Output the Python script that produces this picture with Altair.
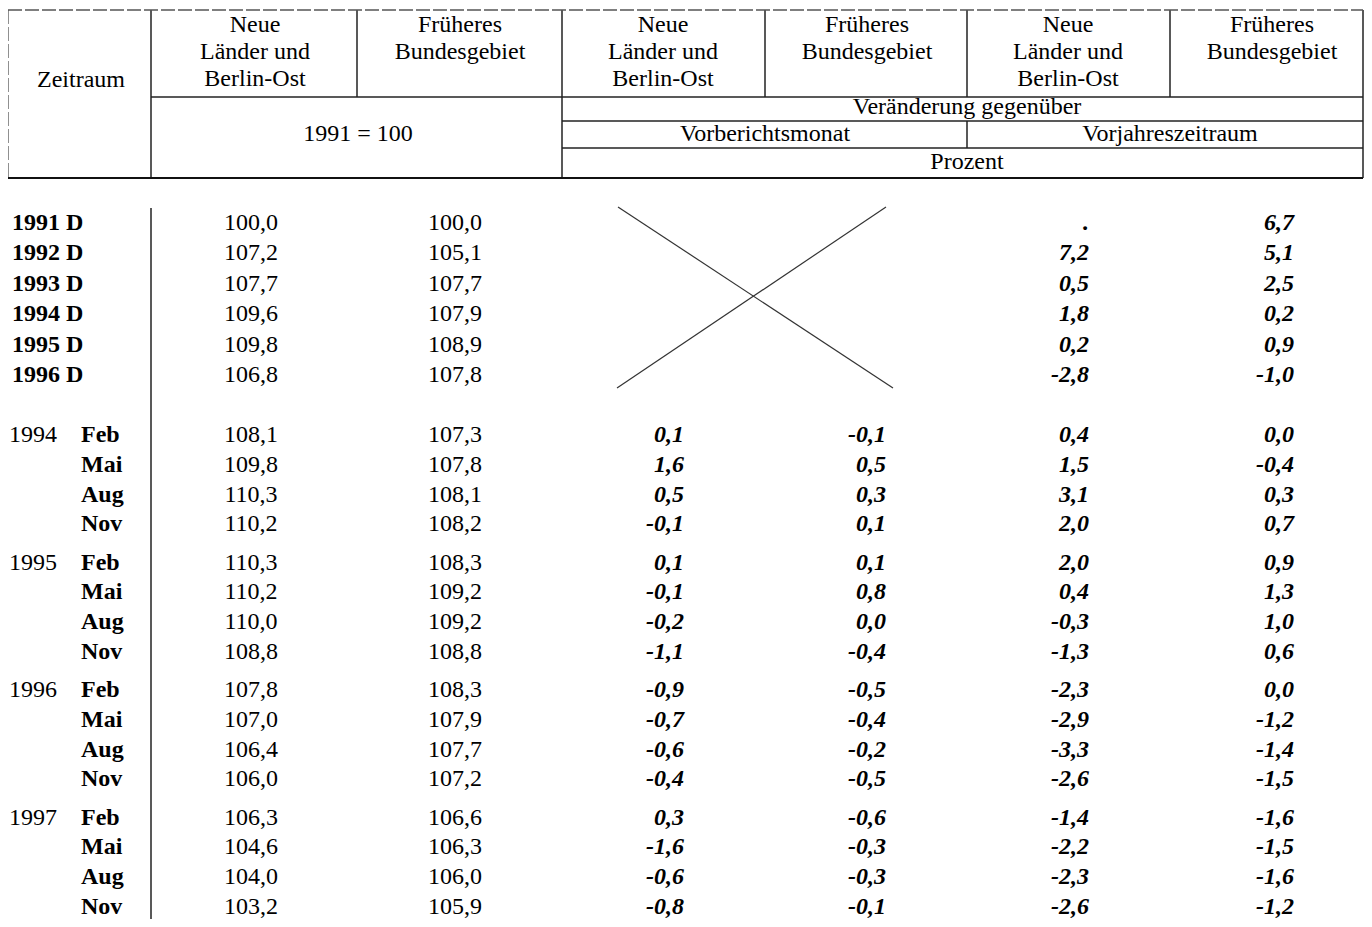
import altair as alt
import pandas as pd

# ---------------- data ----------------
annual_labels = ["1991 D", "1992 D", "1993 D", "1994 D", "1995 D", "1996 D"]
annual_neue = [100.0, 107.2, 107.7, 109.6, 109.8, 106.8]
annual_frueher = [100.0, 105.1, 107.7, 107.9, 108.9, 107.8]
annual_vj_neue = [None, 7.2, 0.5, 1.8, 0.2, -2.8]
annual_vj_frueher = [6.7, 5.1, 2.5, 0.2, 0.9, -1.0]

years = ["1994", "1995", "1996", "1997"]
months = ["Feb", "Mai", "Aug", "Nov"]
q_neue = [108.1, 109.8, 110.3, 110.2, 110.3, 110.2, 110.0, 108.8,
          107.8, 107.0, 106.4, 106.0, 106.3, 104.6, 104.0, 103.2]
q_frueher = [107.3, 107.8, 108.1, 108.2, 108.3, 109.2, 109.2, 108.8,
             108.3, 107.9, 107.7, 107.2, 106.6, 106.3, 106.0, 105.9]
q_vm_neue = [0.1, 1.6, 0.5, -0.1, 0.1, -0.1, -0.2, -1.1,
             -0.9, -0.7, -0.6, -0.4, 0.3, -1.6, -0.6, -0.8]
q_vm_frueher = [-0.1, 0.5, 0.3, 0.1, 0.1, 0.8, 0.0, -0.4,
                -0.5, -0.4, -0.2, -0.5, -0.6, -0.3, -0.3, -0.1]
q_vj_neue = [0.4, 1.5, 3.1, 2.0, 2.0, 0.4, -0.3, -1.3,
             -2.3, -2.9, -3.3, -2.6, -1.4, -2.2, -2.3, -2.6]
q_vj_frueher = [0.0, -0.4, 0.3, 0.7, 0.9, 1.3, 1.0, 0.6,
                0.0, -1.2, -1.4, -1.5, -1.6, -1.5, -1.6, -1.2]

col_neue = ["Neue", "Länder und", "Berlin-Ost"]
col_frueher = ["Früheres", "Bundesgebiet"]

# ---------------- layout (style) ----------------
FONT = "Liberation Serif"
FS = 24
W, H = 1356, 911
X0, X1, Y0, Y1 = 8, 1364, 8, 919
RIGHT = 1363

def fmt(v):
    if v is None:
        return "."
    return f"{v:.1f}".replace(".", ",")

def ann_y(i):
    return 223 + 30.4 * i

def q_y(g, q):
    return 435 + 127.5 * g + 29.8 * q

idx_cx = [251, 455]
chg_rx = [684, 886, 1089, 1294]

rows = []
for i, lab in enumerate(annual_labels):
    y = ann_y(i)
    rows.append(dict(x=12, y=y, t=lab, s="lab_bold"))
    rows.append(dict(x=idx_cx[0], y=y, t=fmt(annual_neue[i]), s="idx"))
    rows.append(dict(x=idx_cx[1], y=y, t=fmt(annual_frueher[i]), s="idx"))
    rows.append(dict(x=chg_rx[2], y=y, t=fmt(annual_vj_neue[i]), s="chg"))
    rows.append(dict(x=chg_rx[3], y=y, t=fmt(annual_vj_frueher[i]), s="chg"))

for g, yr in enumerate(years):
    rows.append(dict(x=9, y=q_y(g, 0), t=yr, s="lab_reg"))
    for q, m in enumerate(months):
        k = 4 * g + q
        y = q_y(g, q)
        rows.append(dict(x=81, y=y, t=m, s="lab_bold"))
        rows.append(dict(x=idx_cx[0], y=y, t=fmt(q_neue[k]), s="idx"))
        rows.append(dict(x=idx_cx[1], y=y, t=fmt(q_frueher[k]), s="idx"))
        for c, arr in enumerate([q_vm_neue, q_vm_frueher, q_vj_neue, q_vj_frueher]):
            rows.append(dict(x=chg_rx[c], y=y, t=fmt(arr[k]), s="chg"))

# header texts
head_cx_neue = [255, 663, 1068]
head_cx_fr = [460, 867, 1272]
for cx in head_cx_neue:
    for j, t in enumerate(col_neue):
        rows.append(dict(x=cx, y=25 + 27 * j, t=t, s="head"))
for cx in head_cx_fr:
    for j, t in enumerate(col_frueher):
        rows.append(dict(x=cx, y=25 + 27 * j, t=t, s="head"))
rows += [
    dict(x=81, y=80, t="Zeitraum", s="head"),
    dict(x=358, y=134, t="1991 = 100", s="head"),
    dict(x=967, y=107, t="Veränderung gegenüber", s="head"),
    dict(x=765, y=134, t="Vorberichtsmonat", s="head"),
    dict(x=1170, y=134, t="Vorjahreszeitraum", s="head"),
    dict(x=967, y=162, t="Prozent", s="head"),
]
cells = pd.DataFrame(rows)

segs = pd.DataFrame([
    # header grid
    dict(x=151, y=10, x2=151, y2=178, k="n"),
    dict(x=357, y=10, x2=357, y2=97, k="n"),
    dict(x=562, y=10, x2=562, y2=178, k="n"),
    dict(x=765, y=10, x2=765, y2=97, k="n"),
    dict(x=967, y=10, x2=967, y2=97, k="n"),
    dict(x=967, y=121, x2=967, y2=148, k="n"),
    dict(x=1170, y=10, x2=1170, y2=97, k="n"),
    dict(x=RIGHT, y=10, x2=RIGHT, y2=178, k="n"),
    dict(x=151, y=97, x2=RIGHT, y2=97, k="n"),
    dict(x=562, y=121, x2=RIGHT, y2=121, k="n"),
    dict(x=562, y=148, x2=RIGHT, y2=148, k="n"),
    dict(x=8, y=178, x2=RIGHT, y2=178, k="b"),
    dict(x=8, y=10, x2=RIGHT, y2=10, k="d"),
    dict(x=8, y=10, x2=8, y2=178, k="d"),
    # body
    dict(x=151, y=208, x2=151, y2=919, k="n"),
    dict(x=618, y=207, x2=893, y2=388, k="c"),
    dict(x=886, y=207, x2=617, y2=388, k="c"),
])

xs = alt.Scale(domain=[X0, X1], nice=False, zero=False)
ys = alt.Scale(domain=[Y0, Y1], nice=False, zero=False, reverse=True)

def rule_layer(kind, **kw):
    return alt.Chart(segs).transform_filter(alt.datum.k == kind).mark_rule(**kw).encode(
        x=alt.X("x:Q", scale=xs, axis=None),
        y=alt.Y("y:Q", scale=ys, axis=None),
        x2="x2:Q",
        y2="y2:Q",
    )

def text_layer(style, **kw):
    return alt.Chart(cells).transform_filter(alt.datum.s == style).mark_text(
        font=FONT, fontSize=FS, baseline="middle", color="#000", **kw
    ).encode(
        x=alt.X("x:Q", scale=xs, axis=None),
        y=alt.Y("y:Q", scale=ys, axis=None),
        text="t:N",
    )

layers = [
    rule_layer("n", color="#222", strokeWidth=1.5),
    rule_layer("b", color="#111", strokeWidth=2.2),
    rule_layer("d", color="#555", strokeWidth=1.3, strokeDash=[14, 3]),
    rule_layer("c", color="#333", strokeWidth=1.2),
    text_layer("head", align="center"),
    text_layer("lab_bold", align="left", fontWeight="bold"),
    text_layer("lab_reg", align="left"),
    text_layer("idx", align="center"),
    text_layer("chg", align="right", fontWeight="bold", fontStyle="italic"),
]

chart = alt.layer(*layers).properties(
    width=W, height=H, padding=0, autosize=alt.AutoSizeParams(type="none"),
    background="white",
).configure_view(stroke=None)

chart.save("out.html", embed_options={"renderer": "svg", "actions": False})
